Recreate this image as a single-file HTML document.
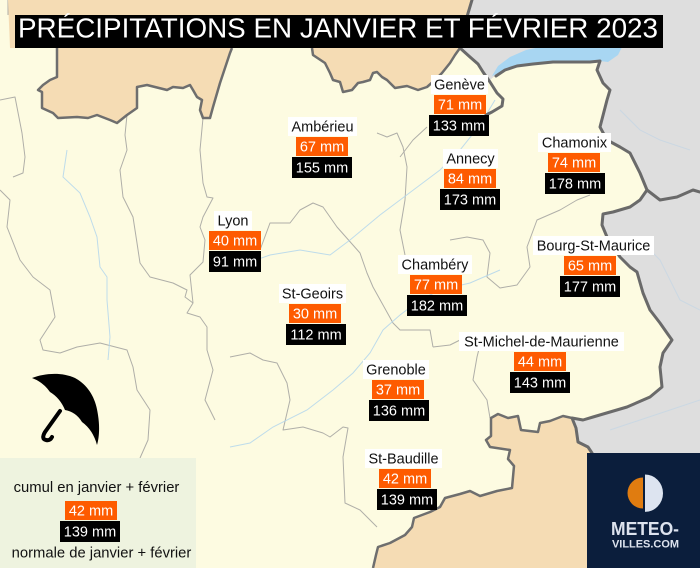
<!DOCTYPE html>
<html lang="fr">
<head>
<meta charset="utf-8">
<title>Précipitations en janvier et février 2023</title>
<style>
  html, body { margin: 0; padding: 0; background: #fdfbe1; }
  svg { display: block; }
  text { font-family: "Liberation Sans", Arial, sans-serif; }
</style>
</head>
<body>
<svg width="700" height="568" viewBox="0 0 700 568" xmlns="http://www.w3.org/2000/svg">
  <!-- base cream -->
  <rect x="0" y="0" width="700" height="568" fill="#fdfbe1"/>

  <!-- thin department boundaries -->
  <g fill="none" stroke="#959595" stroke-width="1" stroke-linejoin="round" opacity="0.75">
    <path d="M8,0 L8,15"/>
    <path d="M72,0 L72,15"/>
    <path d="M0,190 L10,200 L7,227 L20,260 L33,277 L50,290 L55,317 L40,340 L43,350 L60,353 L77,347 L100,343 L127,350 L133,367 L137,390 L150,410 L148,440 L140,458"/>
    <path d="M127,115 L125,135 L127,150 L120,170 L123,197 L133,217 L137,243 L140,263 L150,277 L173,283 L187,290 L185,297 L193,303 L187,313 L200,317 L207,327 L207,350 L213,370 L205,400 L215,420"/>
    <path d="M203,118 L200,150 L203,183 L207,197 L213,198 L203,217 L200,227 L205,240 L203,262 L190,275 L193,303"/>
    <path d="M260,250 L270,223 L290,223 L300,210 L313,203 L323,207 L337,227 L360,253 L367,273 L373,287 L393,323 L400,330 L430,330 L433,347"/>
    <path d="M230,357 L250,353 L263,360 L277,363 L287,383 L290,400 L283,430 L303,427 L323,433 L330,437 L343,427 L348,428 L343,457 L345,503 L360,510 L367,517 L377,527"/>
    <path d="M377,133 L387,137 L397,133 L403,147 L407,167 L405,200 L400,230 L405,255"/>
    <path d="M400,157 L413,140 L427,127"/>
    <path d="M450,240 L467,237 L483,240 L490,253 L487,277 L500,288 L517,285 L530,267 L527,247 L537,220 L560,210 L577,200 L590,195"/>
    <path d="M483,333 L477,357 L473,380 L487,400 L490,418"/>
    <path d="M433,347 L450,345 L470,335 L483,333"/>
    <path d="M0,100 L15,97 L22,133 L25,157 L23,173 L13,177"/>
  </g>

  <!-- rivers -->
  <g fill="none" stroke="#b3d6ec" stroke-width="1" opacity="0.85">
    <path d="M67,150 L63,177 L80,193 L90,217 L97,237 L100,267 L107,277 L107,300 L110,337 L108,360"/>
    <path d="M230,447 L250,443 L273,427 L307,410 L333,390 L353,373 L370,353 L383,330 L400,315 L420,300 L440,290 L470,283 L500,270"/>
    <path d="M233,265 L250,262 L270,255 L300,250 L330,255 L350,240 L380,215 L400,200 L420,185 L440,170 L460,150 L480,125 L495,100"/>
    <path d="M0,470 L30,465 L60,470 L90,462"/>
  </g>

  <!-- tan region north -->
  <path d="M8,0 L472,0 L466,20 L460,48 L455,55 L450,63 L442,73 L435,80 L427,87 L418,90 L407,86 L395,88 L387,80 L382,77 L377,72 L373,73 L370,80 L363,82 L358,83 L352,90 L343,92 L340,82 L333,80 L330,73 L325,63 L313,55 L312,48 L232,48 L230,53 L220,83 L213,107 L210,118 L203,118 L200,110 L202,100 L197,97 L193,90 L190,85 L183,88 L173,87 L167,90 L147,85 L137,87 L137,108 L127,115 L117,123 L110,120 L97,115 L88,118 L77,117 L58,118 L53,113 L42,108 L42,92 L38,90 L43,85 L50,80 L57,77 L57,48 L10,48 Z" fill="#f5dcb4"/>
  <path d="M472,0 L466,20 L460,48 L455,55 L450,63 L442,73 L435,80 L427,87 L418,90 L407,86 L395,88 L387,80 L382,77 L377,72 L373,73 L370,80 L363,82 L358,83 L352,90 L343,92 L340,82 L333,80 L330,73 L325,63 L313,55 L312,48 M232,48 L230,53 L220,83 L213,107 L210,118 L203,118 L200,110 L202,100 L197,97 L193,90 L190,85 L183,88 L173,87 L167,90 L147,85 L137,87 L137,108 L127,115 L117,123 L110,120 L97,115 L88,118 L77,117 L58,118 L53,113 L42,108 L42,92 L38,90 L43,85 L50,80 L57,77 L57,48" fill="none" stroke="#6e6e6e" stroke-width="2.5" stroke-linejoin="round"/>

  <!-- tan region south -->
  <path d="M373,568 L376,555 L378,547 L390,543 L405,535 L412,527 L414,518 L430,512 L440,507 L445,498 L460,494 L470,491 L480,496 L497,491 L512,488 L514,466 L508,459 L510,450 L490,447 L486,440 L491,436 L491,418 L498,414 L508,418 L518,416 L521,430 L538,432 L540,423 L550,421 L563,416 L572,418 L576,428 L578,442 L588,447 L592,453 L600,568 Z" fill="#f5dcb4"/>
  <path d="M373,568 L376,555 L378,547 L390,543 L405,535 L412,527 L414,518 L430,512 L440,507 L445,498 L460,494 L470,491 L480,496 L497,491 L512,488 L514,466 L508,459 L510,450 L490,447 L486,440 L491,436 L491,418 L498,414 L508,418 L518,416 L521,430 L538,432 L540,423 L550,421 L563,416 L572,418" fill="none" stroke="#6e6e6e" stroke-width="2.5" stroke-linejoin="round"/>

  <!-- grey region (Switzerland / Italy) -->
  <path d="M472,0 L700,0 L700,453 L592,453 L588,447 L578,442 L576,428 L572,418 L583,420 L593,417 L610,412 L627,407 L650,397 L662,387 L660,367 L663,353 L672,340 L667,333 L660,323 L650,310 L643,293 L637,272 L630,267 L620,257 L607,237 L602,225 L603,214 L613,212 L630,207 L640,200 L647,190 L640,173 L630,153 L620,147 L607,140 L600,127 L607,100 L610,90 L603,83 L597,70 L600,60 L590,62 L573,62 L553,62 L533,64 L517,66 L505,70 L497,74 L490,80 L483,72 L478,64 L470,57 L460,48 L466,20 Z" fill="#dedede"/>
  <g fill="none" stroke="#c9d7e3" stroke-width="1" opacity="0.9">
    <path d="M620,110 L640,130 L660,140 L690,150"/>
    <path d="M640,240 L660,260 L680,300 L700,310"/>
    <path d="M610,430 L640,420 L670,410 L700,400"/>
  </g>
  <!-- lake Léman -->
  <path d="M492,76 L498,66 L510,57 L526,50 L545,46 L580,44 L612,44 L622,47 L618,55 L608,62 L600,61 L590,62 L573,62 L553,62 L533,64 L517,66 L505,70 Z" fill="#a8d6f2"/>

  <!-- country borders -->
  <g fill="none" stroke="#6a6a6a" stroke-width="3" stroke-linejoin="round" stroke-linecap="round">
    <path d="M472,0 L466,20 L460,48 L470,57 L478,64 L483,72 L490,82 L497,93 L503,99 L502,106 L492,112 L486,115"/>
    <path d="M496,76 L505,70 L517,66 L533,64 L553,62 L573,62 L590,62 L600,61 L597,70 L603,83 L610,90 L607,100 L600,127 L607,140 L620,147 L630,153 L640,173 L647,190 L640,200 L630,207 L613,212 L603,214 L602,225 L607,237 L620,257 L630,267 L637,272 L643,293 L650,310 L660,323 L667,333 L672,340 L663,353 L660,367 L662,387 L650,397 L627,407 L610,412 L593,417 L583,420 L572,418 L576,428 L578,442 L588,447 L592,453"/>
    <path d="M647,190 L660,200 L677,197 L693,190 L700,192"/>
  </g>

  <!-- Title -->
  <rect x="15" y="15" width="648" height="33" fill="#000"/>
  <text x="18" y="37.5" font-size="27.5" fill="#fff" textLength="640" lengthAdjust="spacingAndGlyphs">PRÉCIPITATIONS EN JANVIER ET FÉVRIER 2023</text>

  <!-- City labels -->
  <g font-size="14.5" text-anchor="middle">
    <rect x="431" y="75" width="57" height="19" fill="#fff"/>
    <text x="459.5" y="89.5" fill="#111">Genève</text>
    <rect x="434" y="95" width="52" height="19" fill="#fe5b00"/>
    <text x="460" y="109.5" fill="#fff">71 mm</text>
    <rect x="429" y="115" width="60" height="21" fill="#000"/>
    <text x="459" y="130.5" fill="#fff">133 mm</text>

    <rect x="288" y="117" width="69" height="19" fill="#fff"/>
    <text x="322.5" y="131.5" fill="#111">Ambérieu</text>
    <rect x="296" y="137" width="52" height="19" fill="#fe5b00"/>
    <text x="322" y="151.5" fill="#fff">67 mm</text>
    <rect x="292" y="157" width="60" height="21" fill="#000"/>
    <text x="322" y="172.5" fill="#fff">155 mm</text>

    <rect x="538" y="133" width="73" height="19" fill="#fff"/>
    <text x="574.5" y="147.5" fill="#111">Chamonix</text>
    <rect x="548" y="153" width="52" height="19" fill="#fe5b00"/>
    <text x="574" y="167.5" fill="#fff">74 mm</text>
    <rect x="545" y="173" width="60" height="21" fill="#000"/>
    <text x="575" y="188.5" fill="#fff">178 mm</text>

    <rect x="443" y="149" width="55" height="19" fill="#fff"/>
    <text x="470.5" y="163.5" fill="#111">Annecy</text>
    <rect x="444" y="169" width="52" height="19" fill="#fe5b00"/>
    <text x="470" y="183.5" fill="#fff">84 mm</text>
    <rect x="440" y="189" width="60" height="21" fill="#000"/>
    <text x="470" y="204.5" fill="#fff">173 mm</text>

    <rect x="214" y="211" width="38" height="19" fill="#fff"/>
    <text x="233" y="225.5" fill="#111">Lyon</text>
    <rect x="209" y="231" width="52" height="19" fill="#fe5b00"/>
    <text x="235" y="245.5" fill="#fff">40 mm</text>
    <rect x="209" y="251" width="52" height="21" fill="#000"/>
    <text x="235" y="266.5" fill="#fff">91 mm</text>

    <rect x="533" y="236" width="121" height="19" fill="#fff"/>
    <text x="593.5" y="250.5" fill="#111">Bourg-St-Maurice</text>
    <rect x="564" y="256" width="52" height="19" fill="#fe5b00"/>
    <text x="590" y="270.5" fill="#fff">65 mm</text>
    <rect x="560" y="276" width="60" height="21" fill="#000"/>
    <text x="590" y="291.5" fill="#fff">177 mm</text>

    <rect x="398" y="255" width="74" height="19" fill="#fff"/>
    <text x="435" y="269.5" fill="#111">Chambéry</text>
    <rect x="410" y="275" width="52" height="19" fill="#fe5b00"/>
    <text x="436" y="289.5" fill="#fff">77 mm</text>
    <rect x="407" y="295" width="60" height="21" fill="#000"/>
    <text x="437" y="310.5" fill="#fff">182 mm</text>

    <rect x="279" y="284" width="67" height="19" fill="#fff"/>
    <text x="312.5" y="298.5" fill="#111">St-Geoirs</text>
    <rect x="289" y="304" width="52" height="19" fill="#fe5b00"/>
    <text x="315" y="318.5" fill="#fff">30 mm</text>
    <rect x="286" y="324" width="60" height="21" fill="#000"/>
    <text x="316" y="339.5" fill="#fff">112 mm</text>

    <rect x="459" y="332" width="165" height="19" fill="#fff"/>
    <text x="541.5" y="346.5" fill="#111">St-Michel-de-Maurienne</text>
    <rect x="514" y="352" width="52" height="19" fill="#fe5b00"/>
    <text x="540" y="366.5" fill="#fff">44 mm</text>
    <rect x="510" y="372" width="60" height="21" fill="#000"/>
    <text x="540" y="387.5" fill="#fff">143 mm</text>

    <rect x="363" y="360" width="66" height="19" fill="#fff"/>
    <text x="396" y="374.5" fill="#111">Grenoble</text>
    <rect x="372" y="380" width="52" height="19" fill="#fe5b00"/>
    <text x="398" y="394.5" fill="#fff">37 mm</text>
    <rect x="369" y="400" width="60" height="21" fill="#000"/>
    <text x="399" y="415.5" fill="#fff">136 mm</text>

    <rect x="365" y="449" width="77" height="19" fill="#fff"/>
    <text x="403.5" y="463.5" fill="#111">St-Baudille</text>
    <rect x="379" y="469" width="52" height="19" fill="#fe5b00"/>
    <text x="405" y="483.5" fill="#fff">42 mm</text>
    <rect x="377" y="489" width="60" height="21" fill="#000"/>
    <text x="407" y="504.5" fill="#fff">139 mm</text>
  </g>

  <!-- Umbrella -->
  <path d="M32,378 C45,373 62,372 75,378 C88,385 96,398 98,415 C100,428 99,438 97,445 Q93,430 82,422 Q76,412 65,410 Q60,398 50,392 Q43,382 32,378 Z" fill="#000"/>
  <path d="M60,411 L45,432 Q41,439 46,440 Q50,441 52,437" fill="none" stroke="#000" stroke-width="4" stroke-linecap="round" stroke-linejoin="round"/>

  <!-- Legend -->
  <rect x="0" y="458" width="196" height="110" fill="#eef3df"/>
  <g text-anchor="middle">
    <text x="96.5" y="492" font-size="14.8" fill="#111">cumul en janvier + février</text>
    <rect x="65" y="501" width="52" height="19" fill="#fe5b00"/>
    <text x="91" y="515.5" font-size="14.5" fill="#fff">42 mm</text>
    <rect x="60" y="521" width="60" height="21" fill="#000"/>
    <text x="90" y="536.5" font-size="14.5" fill="#fff">139 mm</text>
    <text x="101.5" y="557.5" font-size="14.8" fill="#111">normale de janvier + février</text>
  </g>

  <!-- Logo -->
  <rect x="587" y="453" width="113" height="115" fill="#0b1e3c"/>
  <path d="M643,477.5 A15.5,15.5 0 0 0 643,508.5 Z" fill="#e07c10"/>
  <path d="M645,474.5 A18,18.7 0 0 1 645,511.9 Z" fill="#dde4f0"/>
  <text x="611" y="535" font-size="18" font-weight="bold" fill="#dde3ee" textLength="68" lengthAdjust="spacingAndGlyphs">METEO-</text>
  <text x="612" y="547.5" font-size="11" font-weight="bold" fill="#dde3ee" textLength="67" lengthAdjust="spacingAndGlyphs">VILLES.COM</text>
</svg>
</body>
</html>
